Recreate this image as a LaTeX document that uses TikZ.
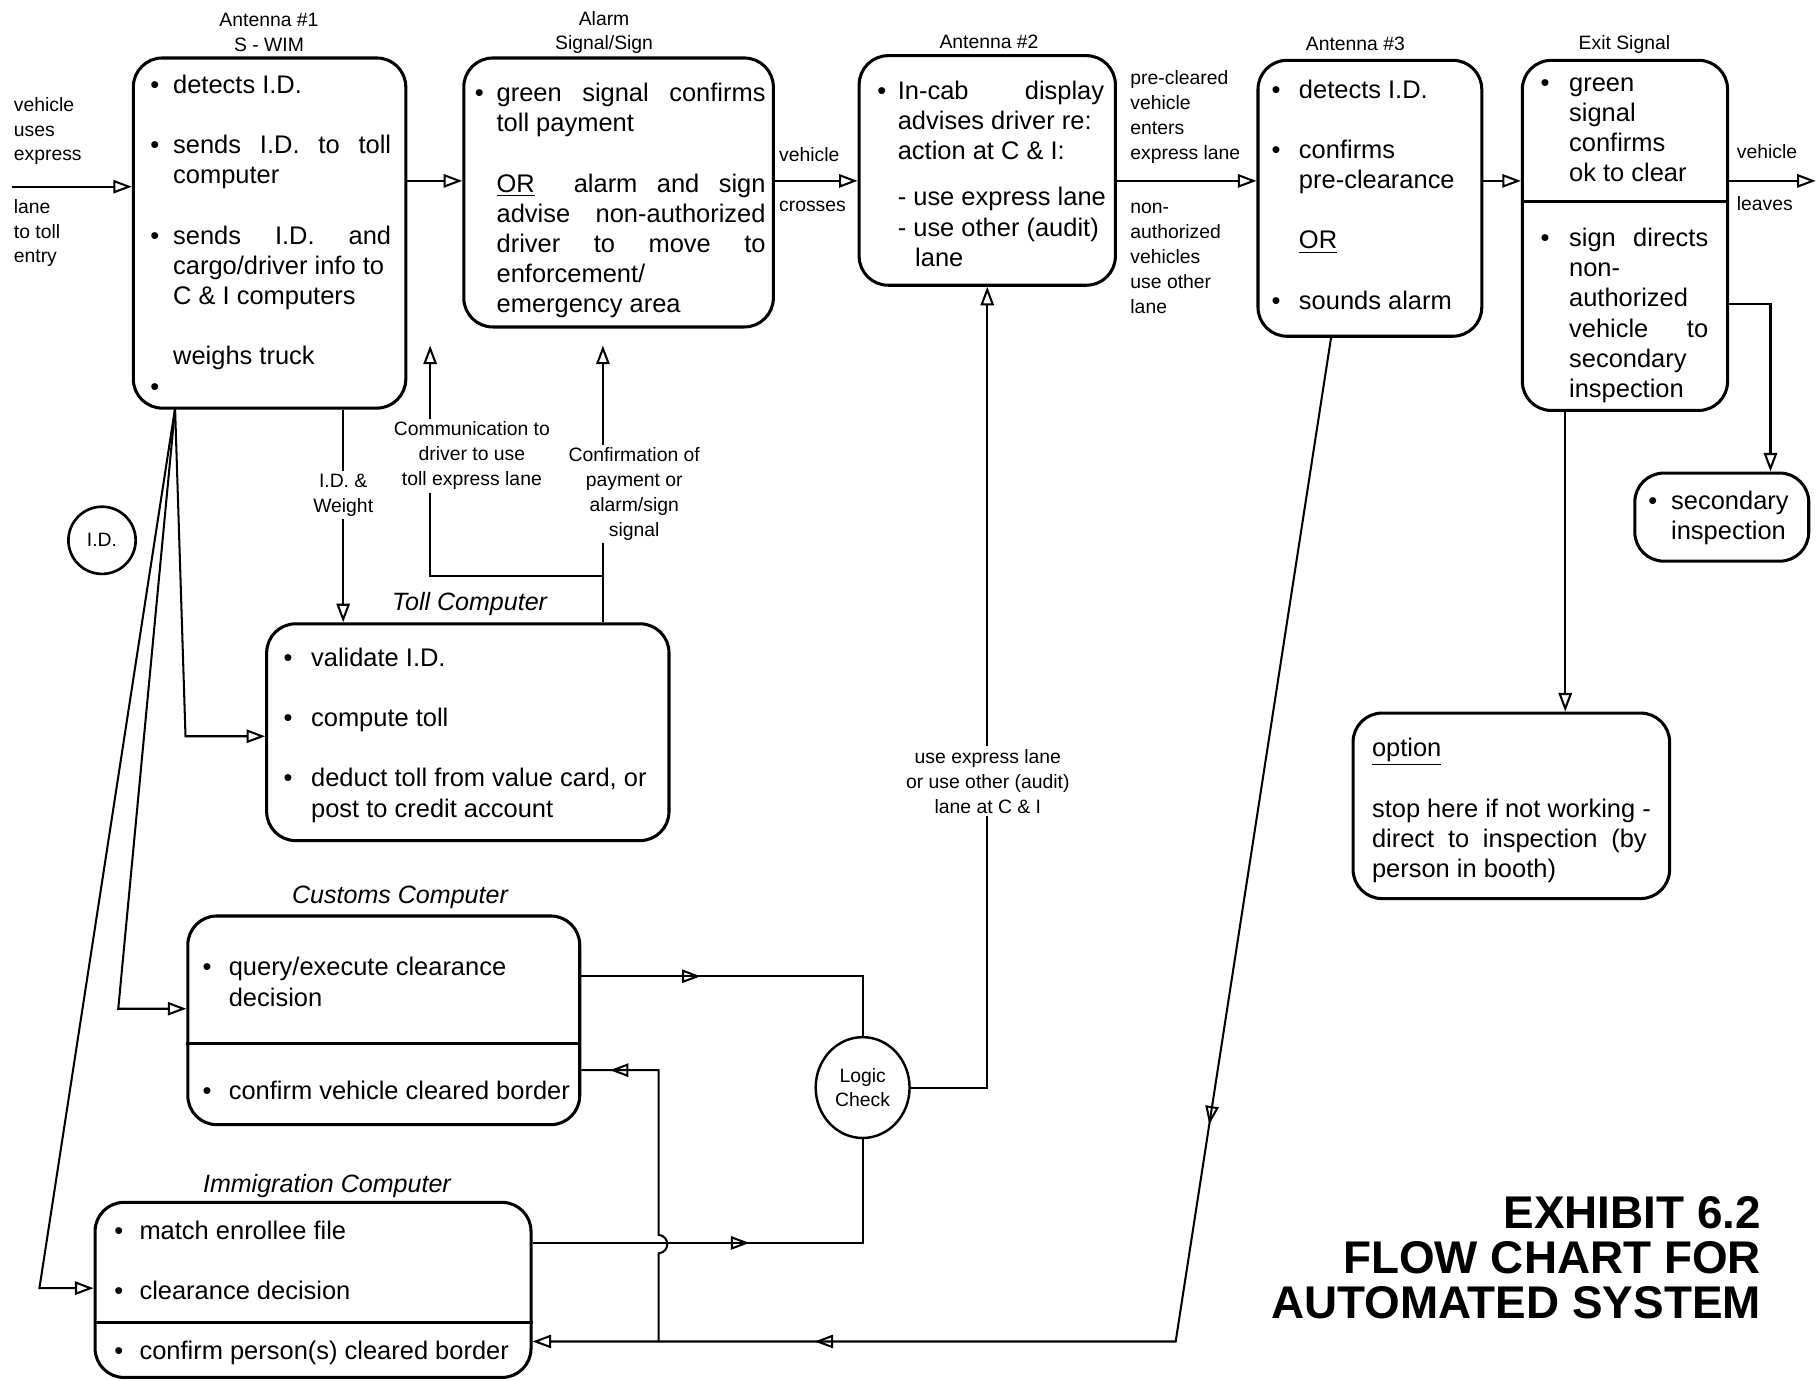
\documentclass[tikz,border=0pt]{standalone}
\usepackage{fontspec}
\setmainfont{Liberation Sans}
\usetikzlibrary{arrows.meta,fit,shapes.geometric,decorations.markings}

\newcommand{\bu}[1][0.24cm]{\llap{\textbullet\hspace{#1}}}
\newcommand{\jl}[2]{\makebox[#1][s]{#2}}

\begin{document}
\begin{tikzpicture}[x=0.02cm, y=-0.02cm,
    >={Triangle[open, length=0.32cm, width=0.23cm]},
    panel/.style={draw, line width=1.5pt, rounded corners=0.5cm, inner sep=0pt},
    body/.style={font=\fontsize{12.5}{14.8}\selectfont, align=left, anchor=north west,
        inner sep=0pt, execute at begin node={\rule{0pt}{10pt}}},
    note/.style={font=\fontsize{9.5}{12.2}\selectfont, align=center, inner sep=1.5pt},
    title/.style={font=\fontsize{12.3}{14}\selectfont\itshape, inner sep=0pt},
    link/.style={line width=1pt},
    midarrow/.style={postaction={decorate, decoration={markings, mark=at position #1 with {\arrow{>}}}}}]
    \useasboundingbox (0,0) rectangle (1568,1191);

    % Boxes along the lane
    \node[panel, fit={(115,50) (350,352)}] (ant1) {};
    \node[panel, fit={(400,50) (667,282)}] (alarm) {};
    \node[panel, fit={(741,48) (962,246)}] (ant2) {};
    \node[panel, fit={(1085,52) (1278,290)}] (ant3) {};
    \node[panel, fit={(1313,52) (1490,354)}] (exit) {};
    \node[panel, fit={(1410,408) (1560,484)}] (sec) {};
    \node[panel, fit={(1167,615) (1440,775)}] (opt) {};

    % Computers
    \node[panel, fit={(230,538) (577,725)}] (toll) {};
    \node[panel, fit={(162,790) (500,970)}] (cust) {};
    \node[panel, fit={(82,1037) (458,1188)}] (immi) {};

    \coordinate (exdiv) at (0,174);
    \coordinate (cudiv) at (0,900);
    \coordinate (imdiv) at (0,1141);
    \draw[line width=1.5pt] (exdiv -| exit.west) -- (exdiv -| exit.east);
    \draw[line width=1.5pt] (cudiv -| cust.west) -- (cudiv -| cust.east);
    \draw[line width=1.5pt] (imdiv -| immi.west) -- (imdiv -| immi.east);

    % Box headings
    \node[note] at (232,28) {Antenna \#1\\S - WIM};
    \node[note] at (521,28) {Alarm\\Signal/Sign};
    \node[note] at (853,36) {Antenna \#2};
    \node[note] at (1169,38) {Antenna \#3};
    \node[note] at (1401,38) {Exit Signal};
    \node[title] at (405,521) {Toll Computer};
    \node[title] at (345,774) {Customs Computer};
    \node[title] at (282,1023) {Immigration Computer};

    % Box texts
    \node[body] at (149,64.4) {\bu detects I.D.\\[14.8pt]
        \bu\jl{3.76cm}{sends I.D. to toll}\\
        computer\\[14.8pt]
        \bu\jl{3.76cm}{sends I.D. and}\\
        cargo/driver info to\\
        C \& I computers\\[14.8pt]
        weighs truck\\
        \bu};
    \node[body] at (428,71.4) {\bu[0.22cm]\jl{4.64cm}{green signal confirms}\\
        toll payment\\[14.8pt]
        \jl{4.64cm}{\underline{OR}\ \ alarm and sign}\\
        \jl{4.64cm}{advise non-authorized}\\
        \jl{4.64cm}{driver to move to}\\
        enforcement/\\
        emergency area};
    \node[body] at (774,69.4) {\bu[0.2cm]\jl{3.56cm}{In-cab display}\\
        advises driver re:\\
        action at C \& I:\\[7.9pt]
        - use express lane\\
        - use other (audit)\\
        \hspace*{0.3cm}lane};
    \node[body] at (1120,68.4) {\bu[0.32cm]detects I.D.\\[14.8pt]
        \bu[0.32cm]confirms\\
        pre-clearance\\[14.8pt]
        \underline{OR}\\[14.8pt]
        \bu[0.32cm]sounds alarm};
    \node[body] at (1353,66.4) {\bu[0.34cm]green\\
        signal\\
        confirms\\
        ok to clear};
    \node[body] at (1353,196.4) {\bu[0.34cm]\jl{2.4cm}{sign directs}\\
        non-\\
        authorized\\
        \jl{2.4cm}{vehicle to}\\
        secondary\\
        inspection};
    \node[body] at (1441,423.4) {\bu secondary\\inspection};
    \node[body] at (1183,636.4) {\underline{option}\\[14.8pt]
        stop here if not working -\\
        \jl{4.74cm}{direct to inspection (by}\\
        person in booth)};
    \node[body] at (268,558.4) {\bu[0.32cm]validate I.D.\\[14.8pt]
        \bu[0.32cm]compute toll\\[14.8pt]
        \bu[0.32cm]deduct toll from value card, or\\
        post to credit account};
    \node[body] at (197,825.4) {\bu[0.3cm]query/execute clearance\\decision};
    \node[body] at (197,930.4) {\bu[0.3cm]confirm vehicle cleared border};
    \node[body] at (120,1052.4) {\bu[0.28cm]match enrollee file\\[14.8pt]
        \bu[0.28cm]clearance decision\\[14.8pt]
        \bu[0.28cm]confirm person(s) cleared border};

    % Circles
    \node[draw, circle, line width=1.3pt, minimum size=1.16cm, inner sep=0pt,
        font=\fontsize{9.5}{12.2}\selectfont] (idtag) at (88,466) {I.D.};
    \node[draw, ellipse, line width=1.2pt, minimum width=1.62cm, minimum height=1.74cm,
        inner sep=0pt, note] (lc) at (744,938) {Logic\\Check};

    % Main lane
    \coordinate (row) at (0,156);
    \coordinate (entry) at (10,161);
    \coordinate (out) at (1566,156);
    \draw[link,->] (entry) -- (entry -| ant1.west);
    \draw[link,->] (row -| ant1.east) -- (row -| alarm.west);
    \draw[link,->] (row -| alarm.east) -- (row -| ant2.west);
    \draw[link,->] (row -| ant2.east) -- (row -| ant3.west);
    \draw[link,->] (row -| ant3.east) -- (row -| exit.west);
    \draw[link,->] (row -| exit.east) -- (out);

    \node[note, align=left, anchor=west] at (9,113) {vehicle\\uses\\express};
    \node[note, align=left, anchor=west] at (9,201) {lane\\to toll\\entry};
    \node[note, anchor=west] at (669,133) {vehicle};
    \node[note, anchor=west] at (669,178) {crosses};
    \node[note, align=left, anchor=west] at (972,101) {pre-cleared\\vehicle\\enters\\express lane};
    \node[note, align=left, anchor=west] at (972,223) {non-\\authorized\\vehicles\\use other\\lane};
    \node[note, anchor=west] at (1495,131) {vehicle};
    \node[note, anchor=west] at (1495,176) {leaves};

    % Exit signal branches
    \coordinate (secturn) at (1527,262);
    \coordinate (optdrop) at (1350,615);
    \draw[link,->] (secturn -| exit.east) -- (secturn) -- (secturn |- sec.north);
    \draw[link,->] (optdrop |- exit.south) -- (optdrop |- opt.north);

    % Antenna 1 to toll computer
    \coordinate (idw) at (296,427);
    \draw[link,->] (idw |- ant1.south) -- (idw |- toll.north);
    \node[note, fill=white] at (idw) {I.D. \&\\Weight};

    % Toll computer back to the alarm
    \coordinate (conf) at (520,298);
    \coordinate (comm) at (371,298);
    \coordinate (split) at (520,497);
    \draw[link,->] (conf |- toll.north) -- (conf);
    \draw[link,->] (split) -- (split -| comm) -- (comm);
    \node[note, fill=white] at (407,393) {Communication to\\driver to use\\toll express lane};
    \node[note, fill=white] at (547,426) {Confirmation of\\payment or\\alarm/sign\\signal};

    % I.D. fan to the computers
    \coordinate (fan) at (151,352);
    \coordinate (ft) at (160,635);
    \coordinate (fc) at (102,870);
    \coordinate (fi) at (34,1111);
    \draw[link,->] (fan) -- (ft) -- (ft -| toll.west);
    \draw[link,->] (fan) -- (fc) -- (fc -| cust.west);
    \draw[link,->] (fan) -- (fi) -- (fi -| immi.west);

    % Logic check
    \coordinate (cq) at (0,842);
    \coordinate (im) at (0,1072);
    \draw[link, midarrow=0.35] (cq -| cust.east) -- (cq -| lc.north) -- (lc.north);
    \draw[link, midarrow=0.5] (im -| immi.east) -- (im -| lc.south) -- (lc.south);
    \draw[link,->] (lc.east) -- (lc.east -| ant2.south) -- (ant2.south);
    \node[note, fill=white] at (852,674) {use express lane\\or use other (audit)\\lane at C \& I};

    % Antenna 3 back to the computers
    \coordinate (a3) at (1148,0);
    \coordinate (bend) at (1014,1157);
    \coordinate (jn) at (568,1157);
    \coordinate (cv) at (568,923);
    \draw[link,->, midarrow=0.48, midarrow=0.83] (a3 |- ant3.south) -- (bend) -- (bend -| immi.east);
    \draw[link, midarrow=0.92] (jn) -- (568,1081) .. controls (578,1080) and (578,1066) .. (568,1065)
        -- (cv) -- (cv -| cust.east);

    \node[font=\fontsize{22.5}{22.1}\selectfont\bfseries, align=right, anchor=east, inner sep=0pt]
        (exhibit) at (1519,1085) {EXHIBIT 6.2\\FLOW CHART FOR\\AUTOMATED SYSTEM};
\end{tikzpicture}
\end{document}
